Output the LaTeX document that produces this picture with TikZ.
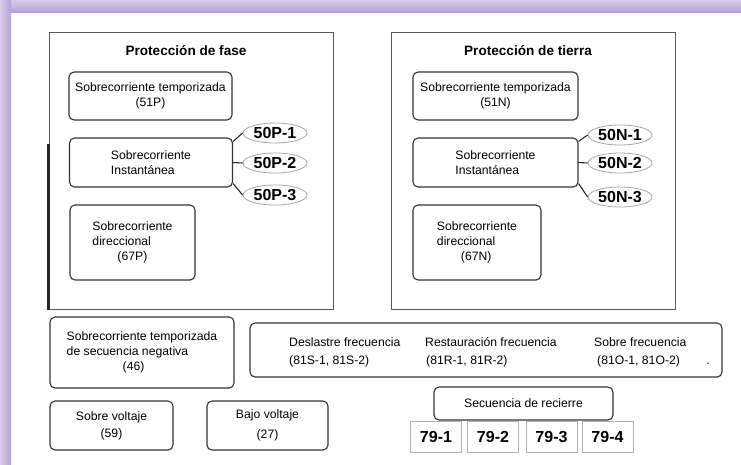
\documentclass[tikz,border=0pt]{standalone}
\usepackage{fontspec}
\setmainfont{Liberation Sans}
\usetikzlibrary{shapes.geometric}
\definecolor{frameL}{RGB}{216,203,236}
\definecolor{frameD}{RGB}{180,160,216}
\newcommand{\bxfont}{\fontsize{12.2}{15}\selectfont}
\newcommand{\ttlfont}{\fontsize{13.6}{16}\selectfont\bfseries}
\newcommand{\tagfont}{\fontsize{16}{18}\selectfont\bfseries}

\begin{document}
\begin{tikzpicture}[x=1pt,y=-1pt,
  grp/.style={draw=black!65, line width=1pt, inner sep=0pt},
  blk/.style={draw=black!80, line width=1.1pt, rounded corners=5pt,
    inner sep=0pt, align=center, font=\bxfont},
  ttl/.style={font=\ttlfont},
  tag/.style={ellipse, draw=black!35, line width=0.8pt, inner sep=0pt,
    minimum width=64pt, minimum height=20pt, font=\tagfont},
  rc/.style={draw=black!30, line width=0.8pt, inner sep=0pt,
    minimum width=51pt, minimum height=31pt, font=\tagfont},
  lnk/.style={draw=black!85, line width=1.1pt}]
\useasboundingbox (0,0) rectangle (741,464);
% purple frame
\shade[top color=frameL, bottom color=frameD] (0,0) rectangle (741,12);
\shade[left color=frameL, right color=frameD] (0,0) rectangle (11,464);
% phase protection
\node[grp, minimum width=284pt, minimum height=277pt] (fase) at (191,170.5) {};
\draw[line width=2.2pt, black!85] (fase.south west) -- ++(0,-166);
\node[ttl] (ttlP) at (186,51) {Protección de fase};
\node[blk, minimum width=163pt, minimum height=48pt] (tP) at (150.5,96)
  {Sobrecorriente temporizada\\(51P)};
\node[blk, minimum width=163pt, minimum height=49pt, align=left] (iP) at (151,162.5)
  {Sobrecorriente\\Instantánea};
\node[blk, minimum width=125pt, minimum height=75pt, align=left] (dP) at (132.5,242.5)
  {Sobrecorriente\\direccional\\\hspace*{25pt}(67P)};
\node[tag] (p1) at (275,133) {50P-1};
\node[tag] (p2) at (275,163) {50P-2};
\node[tag] (p3) at (275,195) {50P-3};
\draw[lnk] ([yshift=-4pt]iP.north east) -- (p1.west);
\draw[lnk] (iP.east) -- (p2.west);
\draw[lnk] ([yshift=4pt]iP.south east) -- (p3.west);
% earth protection
\node[grp, minimum width=284pt, minimum height=277pt] (tierra) at (533,170.5) {};
\node[ttl] (ttlN) at (528,51) {Protección de tierra};
\node[blk, minimum width=165pt, minimum height=48pt] (tN) at (495.5,96)
  {Sobrecorriente temporizada\\(51N)};
\node[blk, minimum width=165pt, minimum height=49pt, align=left] (iN) at (495.5,162.5)
  {Sobrecorriente\\Instantánea};
\node[blk, minimum width=128pt, minimum height=75pt, align=left] (dN) at (477,242.5)
  {Sobrecorriente\\direccional\\\hspace*{24pt}(67N)};
\node[tag] (n1) at (620,135) {50N-1};
\node[tag] (n2) at (620,163) {50N-2};
\node[tag] (n3) at (620,197) {50N-3};
\draw[lnk] ([yshift=-4pt]iN.north east) -- (n1.west);
\draw[lnk] (iN.east) -- (n2.west);
\draw[lnk] ([yshift=4pt]iN.south east) -- (n3.west);
% other functions
\node[blk, minimum width=184pt, minimum height=71pt, align=left] (neg) at (142,352.5)
  {Sobrecorriente temporizada\\de secuencia negativa\\\hspace*{56pt}(46)};
\node[blk, minimum width=472pt, minimum height=54pt] (freq) at (486,350) {};
\node[font=\bxfont, align=left, anchor=west, inner sep=0pt] (fS) at (289,352)
  {Deslastre frecuencia\\[3pt](81S-1, 81S-2)};
\node[font=\bxfont, align=left, anchor=west, inner sep=0pt] (fR) at (425,352)
  {Restauración frecuencia\\[3pt]\hspace*{1pt}(81R-1, 81R-2)};
\node[font=\bxfont, align=left, anchor=west, inner sep=0pt] (fO) at (594,352)
  {Sobre frecuencia\\[3pt]\hspace*{3pt}(81O-1, 81O-2)};
\node[font=\bxfont, inner sep=0pt] (dot) at (708,364) {.};
\node[blk, minimum width=123pt, minimum height=49pt] (sv) at (111.5,425.5)
  {Sobre voltaje\\[2pt](59)};
\node[blk, minimum width=121pt, minimum height=49pt] (bv) at (267.5,425.5)
  {Bajo voltaje\\[5pt](27)};
% reclosing
\node[blk, minimum width=179pt, minimum height=33pt] (rec) at (523.5,403.5)
  {Secuencia de recierre};
\node[rc] (r1) at (436,436.5) {79-1};
\node[rc] (r2) at (493,436.5) {79-2};
\node[rc] (r3) at (551.5,436.5) {79-3};
\node[rc] (r4) at (607.5,436.5) {79-4};
\end{tikzpicture}
\end{document}
